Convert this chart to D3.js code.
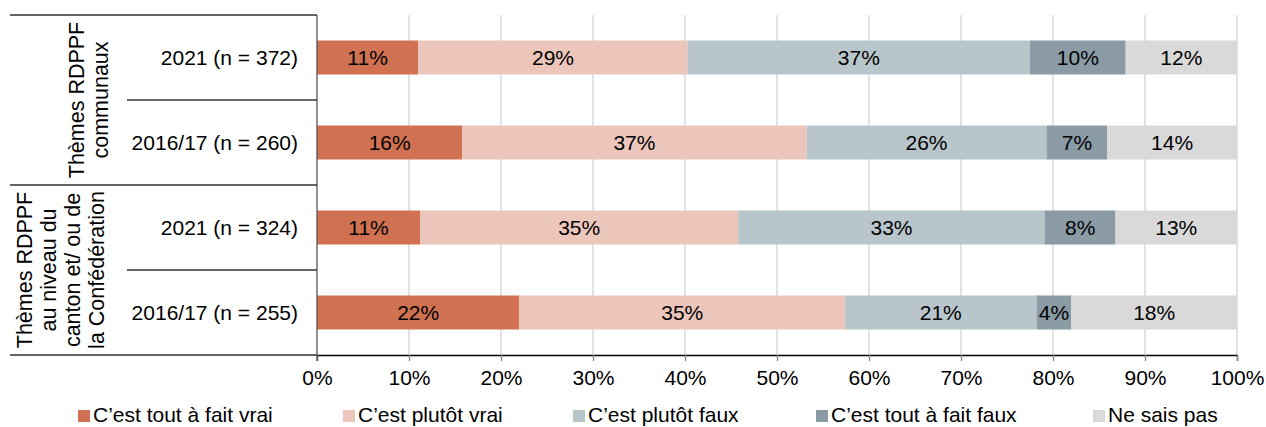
<!DOCTYPE html>
<html>
<head>
<meta charset="utf-8">
<script src="https://cdn.jsdelivr.net/npm/d3@7/dist/d3.min.js"></script>
<style>
  html, body { margin: 0; padding: 0; background: #fff; }
  svg { display: block; font-family: "Liberation Sans", Arial, sans-serif; }
</style>
</head>
<body>
<svg id="chart" width="1266" height="427"></svg>
<script>
const categories = ["2021 (n = 372)", "2016/17 (n = 260)", "2021 (n = 324)", "2016/17 (n = 255)"];
const seriesNames = ["C\u2019est tout \u00e0 fait vrai", "C\u2019est plut\u00f4t vrai", "C\u2019est plut\u00f4t faux", "C\u2019est tout \u00e0 fait faux", "Ne sais pas"];
const toutVrai   = [11.0, 15.8, 11.2, 22.0];
const plutotVrai = [29.3, 37.4, 34.6, 35.4];
const plutotFaux = [37.2, 26.1, 33.3, 20.8];
const toutFaux   = [10.4, 6.6, 7.7, 3.8];
const neSaisPas  = [12.1, 14.1, 13.2, 18.0];
const groupLines = [["Th\u00e8mes RDPPF", "communaux"], ["Th\u00e8mes RDPPF", "au niveau du", "canton et/ ou de", "la Conf\u00e9d\u00e9ration"]];
const groupRows = [[0, 1], [2, 3]];
const xTicks = [0, 10, 20, 30, 40, 50, 60, 70, 80, 90, 100];
const colors = ["#D07152", "#ECC6BB", "#B8C5CB", "#8A9BA6", "#D9D9D9"];

(function () {
const FS = 21;
const seriesValues = [toutVrai, plutotVrai, plutotFaux, toutFaux, neSaisPas];
const table = categories.map((c, i) => {
  const o = { cat: c };
  seriesNames.forEach((s, j) => o[s] = seriesValues[j][i]);
  return o;
});
const stacked = d3.stack().keys(seriesNames)(table);

const svg = d3.select("#chart");
const pLeft = 317, pRight = 1237, pTop = 15, pBottom = 355;
const x = d3.scaleLinear().domain([0, 100]).range([pLeft, pRight]);
const y = d3.scaleBand().domain(categories).range([pTop, pBottom]).paddingInner(0.6).paddingOuter(0.3);
const color = d3.scaleOrdinal().domain(seriesNames).range(colors);

// gridlines
svg.append("g").selectAll("line").data(xTicks.slice(1)).join("line")
  .attr("x1", d => x(d)).attr("x2", d => x(d))
  .attr("y1", pTop).attr("y2", pBottom)
  .attr("stroke", "#D9D9D9").attr("stroke-width", 1.5);

// bars
const layer = svg.append("g").selectAll("g").data(stacked).join("g")
  .attr("fill", d => color(d.key));
layer.selectAll("rect").data(d => d).join("rect")
  .attr("x", d => x(d[0]))
  .attr("width", d => x(d[1]) - x(d[0]))
  .attr("y", d => y(d.data.cat))
  .attr("height", y.bandwidth());

// bar labels
const fmt = v => Math.round(v) + "%";
svg.append("g").selectAll("g").data(stacked).join("g")
  .selectAll("text").data(d => d).join("text")
  .attr("x", d => (x(d[0]) + x(d[1])) / 2)
  .attr("y", d => y(d.data.cat) + y.bandwidth() / 2 + 7.5)
  .attr("text-anchor", "middle")
  .attr("font-size", FS)
  .attr("fill", "#000")
  .text(d => fmt(d[1] - d[0]));

// x axis
const xAxis = svg.append("g").attr("transform", `translate(0,${pBottom})`)
  .call(d3.axisBottom(x).tickValues(xTicks).tickFormat(d => d + "%").tickSize(6).tickPadding(9));
xAxis.select(".domain").attr("stroke", "#000").attr("stroke-width", 1.3);
xAxis.selectAll(".tick line").attr("stroke", "#888").attr("stroke-width", 1.3);
xAxis.selectAll(".tick text").attr("font-size", FS).attr("fill", "#000")
  .attr("font-family", "Liberation Sans, Arial, sans-serif");

// left vertical axis line
svg.append("line").attr("x1", pLeft).attr("x2", pLeft).attr("y1", pTop).attr("y2", pBottom + 6)
  .attr("stroke", "#555").attr("stroke-width", 1.3);

// table separator lines
const rowTop = i => pTop + i * (pBottom - pTop) / categories.length;
const sep = svg.append("g").attr("stroke", "#333").attr("stroke-width", 1.3);
[0, 2, 4].forEach(i => sep.append("line").attr("x1", 10).attr("x2", pLeft).attr("y1", rowTop(i)).attr("y2", rowTop(i)));
[1, 3].forEach(i => sep.append("line").attr("x1", 127).attr("x2", pLeft).attr("y1", rowTop(i)).attr("y2", rowTop(i)));

// row labels
svg.append("g").selectAll("text").data(categories).join("text")
  .attr("x", 298)
  .attr("y", d => y(d) + y.bandwidth() / 2 + 7.5)
  .attr("text-anchor", "end")
  .attr("font-size", FS)
  .text(d => d);

// group labels (rotated)
const groupCenterX = [88, 60];
groupLines.forEach((lines, gi) => {
  const rows = groupRows[gi];
  const cy = (rowTop(rows[0]) + rowTop(rows[1] + 1)) / 2;
  const n = lines.length, lh = 24;
  const t = svg.append("text")
    .attr("transform", `translate(${groupCenterX[gi]},${cy}) rotate(-90)`)
    .attr("text-anchor", "middle")
    .attr("font-size", 21.5);
  lines.forEach((l, li) => {
    t.append("tspan").attr("x", 0).attr("y", (li - (n - 1) / 2) * lh + 7.5).text(l);
  });
});

// legend
const legendX = [78, 343, 573, 816, 1093];
const leg = svg.append("g").selectAll("g").data(seriesNames).join("g")
  .attr("transform", (d, i) => `translate(${legendX[i]},410)`);
leg.append("rect").attr("width", 12).attr("height", 12).attr("fill", d => color(d));
leg.append("text").attr("x", 15).attr("y", 11.5).attr("font-size", FS).text(d => d);
})();
</script>
</body>
</html>
